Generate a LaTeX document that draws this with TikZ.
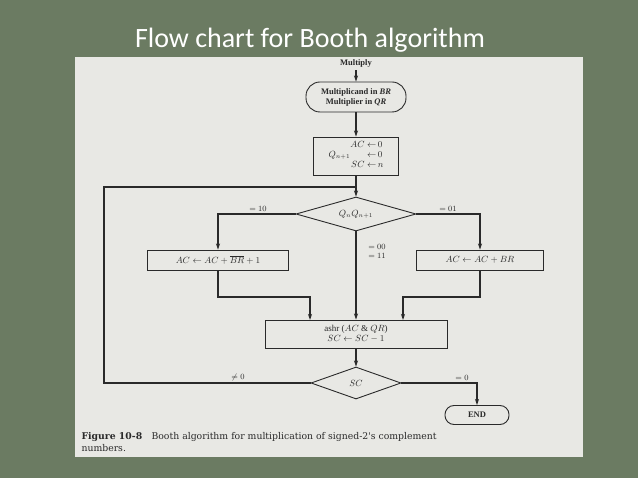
\documentclass[tikz,border=0pt]{standalone}
\usepackage{fontspec}
\setmainfont{Liberation Serif}
\newfontfamily\titlefont{Carlito}
\newfontfamily\capfont{DejaVu Serif}
\usetikzlibrary{shapes.geometric,arrows.meta}
\definecolor{bg}{HTML}{6B7B62}
\definecolor{paper}{HTML}{E8E8E4}
\definecolor{ink}{HTML}{2A2A2A}
\begin{document}
\begin{tikzpicture}[x=1pt,y=-1pt,
  every node/.style={text=ink,font=\fontsize{9}{10}\selectfont},
  box/.style={draw=ink,line width=0.9pt,fill=paper,inner sep=2pt,align=center},
  dia/.style={draw=ink,line width=0.9pt,diamond,aspect=3.5,inner sep=1pt,fill=paper},
  ln/.style={draw=ink,line width=1.3pt},
  arr/.style={ln,-{Stealth[length=6pt,width=4pt]}},
  lab/.style={font=\fontsize{8.5}{9}\selectfont}]
\useasboundingbox (0,0) rectangle (638,478);
\fill[bg] (0,0) rectangle (638,478);
\fill[paper] (75,57) rectangle (583,457);
\node[text=white,font=\titlefont\fontsize{28}{30}\selectfont] (title) at (310,40) {Flow chart for Booth algorithm};
\node[font=\bfseries\fontsize{8.5}{9}\selectfont] (mul) at (356,63) {Multiply};
\node[box,rounded corners=14pt,minimum width=100pt,minimum height=30pt,font=\bfseries\fontsize{8.5}{10}\selectfont] (load) at (356,97) {Multiplicand in \textit{BR}\\Multiplier in \textit{QR}};
\node[box,minimum width=85pt,minimum height=38pt] (init) at (356,156) {\begin{tabular}{@{}r@{\,}l@{}}$AC\leftarrow$&$0$\\$Q_{n+1}\hphantom{{}\leftarrow{}}\leftarrow$&$0$\\$SC\leftarrow$&$n$\end{tabular}};
\node[dia,minimum width=120pt,minimum height=34pt] (q) at (356,214) {$Q_nQ_{n+1}$};
\node[box,minimum width=141pt,minimum height=20pt] (sub) at (218,260) {$AC\leftarrow AC+\overline{BR}+1$};
\node[box,minimum width=127pt,minimum height=20pt] (add) at (480,260) {$AC\leftarrow AC+BR$};
\node[box,minimum width=182pt,minimum height=28pt] (ashr) at (356,334) {ashr ($AC$ \& $QR$)\\$SC\leftarrow SC-1$};
\node[dia,minimum width=90pt,minimum height=32pt] (sc) at (356,383) {$SC$};
\node[box,rounded corners=9pt,minimum width=64pt,minimum height=19pt,font=\bfseries\fontsize{8.5}{9}\selectfont] (end) at (477,415) {END};
\coordinate (fb) at (356,187);
\draw[arr] (mul) -- (load);
\draw[arr] (load) -- (init);
\draw[arr] (init) -- (q);
\draw[arr] (q.west) -| (sub.north);
\draw[arr] (q.east) -| (add.north);
\draw[arr] (q.south) -- (ashr.north);
\draw[arr] (sub.south) |- (310,297) -- (310,320);
\draw[arr] (add.south) |- (403,297) -- (403,320);
\draw[arr] (ashr) -- (sc);
\draw[ln] (sc.west) -| (104,187) -- (fb);
\draw[arr] (sc.east) -| (end.north);
\node[lab] (l10) at (258,209) {$=10$};
\node[lab] (l01) at (448,209) {$=01$};
\node[lab,align=left] (l00) at (377,251) {$=00$\\$=11$};
\node[lab] (lne) at (238,378) {$\neq 0$};
\node[lab] (leq) at (462,378) {$=0$};
\node[anchor=west,align=left,font=\capfont\fontsize{9.3}{12}\selectfont] (cap) at (78,442) {\textbf{Figure 10-8}\quad Booth algorithm for multiplication of signed-2's complement\\numbers.};
\end{tikzpicture}
\end{document}
